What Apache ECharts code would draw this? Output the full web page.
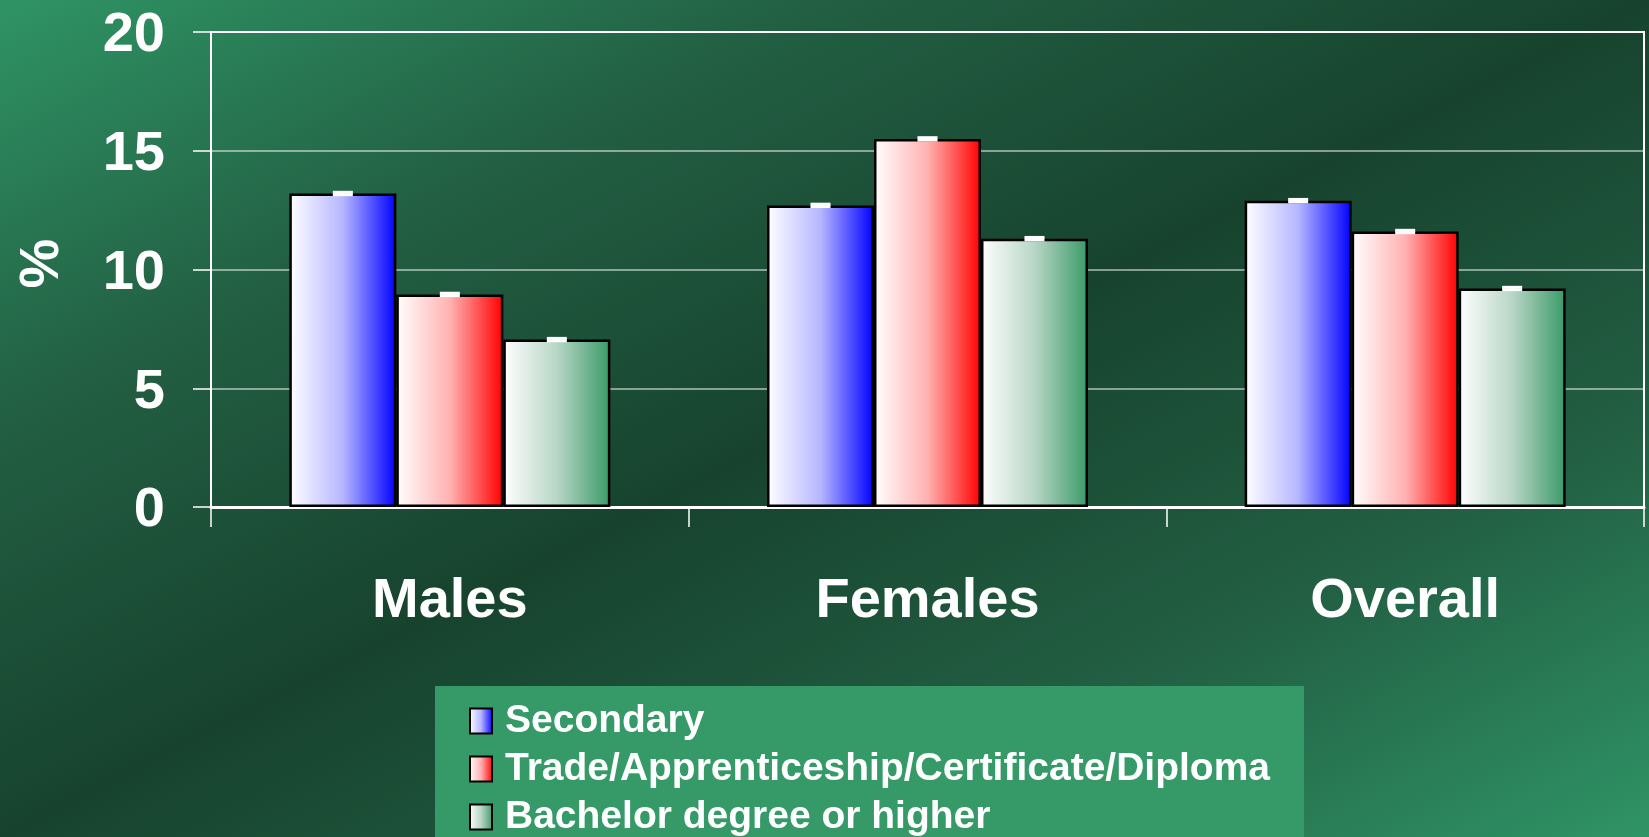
<!DOCTYPE html>
<html>
<head>
<meta charset="utf-8">
<script src="https://cdn.jsdelivr.net/npm/echarts@6/dist/echarts.min.js"></script>
<style>
html,body{margin:0;padding:0;width:1649px;height:837px;overflow:hidden;}
body{background:linear-gradient(to bottom right,#2f9465 0%,#225f43 25%,#17432e 50%,#225f43 75%,#2f9466 100%);}
#chart{width:1649px;height:837px;}
</style>
</head>
<body>
<div id="chart"></div>
<script>
const categories = ['Males', 'Females', 'Overall'];
const seriesNames = ['Secondary', 'Trade/Apprenticeship/Certificate/Diploma', 'Bachelor degree or higher'];
const secondary = [13.2, 12.7, 12.9];
const trade = [8.95, 15.5, 11.6];
const bachelor = [7.05, 11.3, 9.2];
const errSecondary = [0.05, 0.05, 0.05];
const errTrade = [0.05, 0.05, 0.05];
const errBachelor = [0.05, 0.05, 0.05];
const yTicks = [0, 5, 10, 15, 20];

const FONT = '"Liberation Sans", Arial, sans-serif';
const GAP = 0.328;

function grad(mid, end) {
  return new echarts.graphic.LinearGradient(0, 0, 1, 0, [
    {offset: 0, color: '#ffffff'},
    {offset: 0.5, color: mid},
    {offset: 1, color: end}
  ]);
}
const fills = [grad('#b6b6ff', '#0000ff'), grad('#ffb2b2', '#ff0000'), grad('#b8d6c6', '#3a9a68')];
const values = [secondary, trade, bachelor];
const errs = [errSecondary, errTrade, errBachelor];

const barSeries = seriesNames.map((n, i) => ({
  name: n,
  type: 'bar',
  data: values[i],
  barCategoryGap: (GAP * 100) + '%',
  barGap: '0%',
  itemStyle: {color: fills[i], borderColor: '#000', borderWidth: 2.5},
  emphasis: {disabled: true}
}));

const errSeries = seriesNames.map((n, i) => ({
  type: 'custom',
  name: 'err' + i,
  silent: true,
  z: 5,
  data: values[i].map((v, k) => [k, v, errs[i][k]]),
  renderItem: function (params, api) {
    const c = api.value(0), v = api.value(1), e = api.value(2);
    const band = api.size([1, 0])[0];
    const bw = band * (1 - GAP) / 3;
    const p = api.coord([c, v]);
    const cx = p[0] + (i - 1) * bw;
    const yt = api.coord([c, v + e])[1];
    const yb = api.coord([c, v - e])[1];
    const st = {stroke: '#ffffff', lineWidth: 3};
    return {type: 'group', children: [
      {type: 'line', shape: {x1: cx, y1: yt, x2: cx, y2: yb}, style: st},
      {type: 'line', shape: {x1: cx - 10, y1: yt, x2: cx + 10, y2: yt}, style: st},
      {type: 'line', shape: {x1: cx - 10, y1: yb, x2: cx + 10, y2: yb}, style: st}
    ]};
  }
}));

const chart = echarts.init(document.getElementById('chart'), null, {renderer: 'canvas'});
chart.setOption({
  backgroundColor: 'transparent',
  animation: false,
  graphic: [{
    type: 'rect', left: 435, top: 686, z: -1,
    shape: {width: 869, height: 151},
    style: {fill: '#359a68'}
  }],
  grid: {left: 211, top: 32, right: 5, bottom: 330, show: true, borderColor: '#ffffff', borderWidth: 2, backgroundColor: 'transparent'},
  legend: {
    data: seriesNames,
    orient: 'vertical',
    left: 469, top: 701,
    padding: 0,
    icon: 'rect',
    itemWidth: 22, itemHeight: 25,
    itemGap: 8,
    selectedMode: false,
    textStyle: {color: '#ffffff', fontFamily: FONT, fontWeight: 'bold', fontSize: 39, lineHeight: 40, padding: [0, 0, 0, 8]}
  },
  xAxis: {
    type: 'category',
    data: categories,
    axisLine: {lineStyle: {color: '#ffffff', width: 3}},
    axisTick: {show: true, length: 20, lineStyle: {color: '#ffffff', width: 1.5}},
    axisLabel: {color: '#ffffff', fontFamily: FONT, fontWeight: 'bold', fontSize: 56, margin: 67}
  },
  yAxis: {
    type: 'value',
    min: 0, max: 20, interval: 5,
    name: '%',
    nameLocation: 'middle',
    nameGap: 140,
    nameTextStyle: {color: '#ffffff', fontFamily: FONT, fontWeight: 'bold', fontSize: 56, padding: [0, 0, 0, 12]},
    axisLine: {show: true, lineStyle: {color: '#ffffff', width: 2}},
    axisTick: {show: true, length: 18, lineStyle: {color: '#ffffff', width: 1.5}},
    splitLine: {lineStyle: {color: 'rgba(255,255,255,0.65)', width: 1.5}},
    axisLabel: {margin: 46,
      formatter: v => yTicks.includes(v) ? '{t|' + v + '}' : '',
      rich: {t: {color: '#ffffff', fontFamily: FONT, fontWeight: 'bold', fontSize: 56, padding: [8, 0, 0, 0]}}
    }
  },
  series: barSeries.concat(errSeries)
});
</script>
</body>
</html>
